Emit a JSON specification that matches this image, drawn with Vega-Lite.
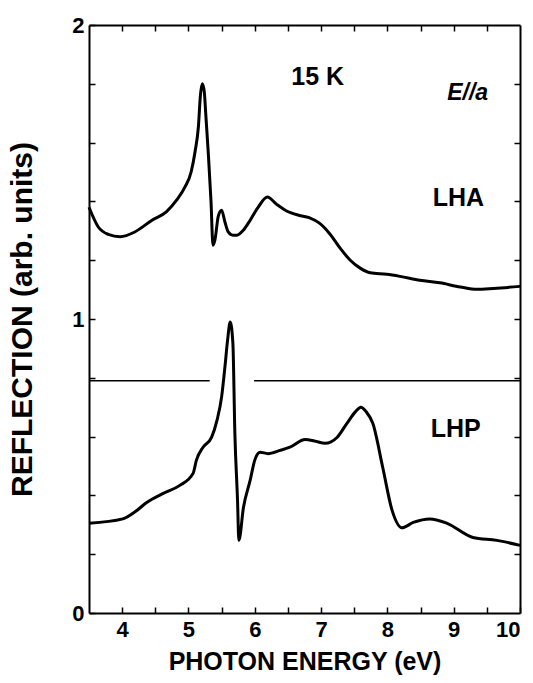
{
  "$schema": "https://vega.github.io/schema/vega-lite/v6.json",
  "width": 431,
  "height": 588,
  "autosize": "none",
  "padding": {"left": 89, "top": 25, "right": 13, "bottom": 70},
  "background": "white",
  "config": {
    "view": {"stroke": null},
    "axis": {
      "domainColor": "black", "domainWidth": 2, "tickColor": "black", "tickWidth": 1.5,
      "tickSize": -6, "grid": false, "labelFont": "Liberation Sans", "labelFontWeight": "bold",
      "labelFontSize": 22, "labelColor": "black", "titleFont": "Liberation Sans",
      "titleFontWeight": "bold", "titleFontSize": 25, "titleColor": "black"
    },
    "text": {"font": "Liberation Sans"}
  },
  "datasets": {
    "curves": [
      {"series": "LHA", "energy": 3.5, "refl": 1.38},
      {"series": "LHA", "energy": 3.64, "refl": 1.313},
      {"series": "LHA", "energy": 3.79, "refl": 1.288},
      {"series": "LHA", "energy": 3.97, "refl": 1.28},
      {"series": "LHA", "energy": 4.19, "refl": 1.296},
      {"series": "LHA", "energy": 4.45, "refl": 1.336},
      {"series": "LHA", "energy": 4.67, "refl": 1.365},
      {"series": "LHA", "energy": 4.82, "refl": 1.404},
      {"series": "LHA", "energy": 4.95, "refl": 1.45},
      {"series": "LHA", "energy": 5.04, "refl": 1.5},
      {"series": "LHA", "energy": 5.1, "refl": 1.57},
      {"series": "LHA", "energy": 5.15, "refl": 1.654},
      {"series": "LHA", "energy": 5.18, "refl": 1.76},
      {"series": "LHA", "energy": 5.21, "refl": 1.8},
      {"series": "LHA", "energy": 5.24, "refl": 1.77},
      {"series": "LHA", "energy": 5.26, "refl": 1.7},
      {"series": "LHA", "energy": 5.3, "refl": 1.56},
      {"series": "LHA", "energy": 5.34, "refl": 1.4},
      {"series": "LHA", "energy": 5.37, "refl": 1.251},
      {"series": "LHA", "energy": 5.4, "refl": 1.27},
      {"series": "LHA", "energy": 5.45, "refl": 1.35},
      {"series": "LHA", "energy": 5.5, "refl": 1.37},
      {"series": "LHA", "energy": 5.55, "refl": 1.33},
      {"series": "LHA", "energy": 5.6, "refl": 1.296},
      {"series": "LHA", "energy": 5.67, "refl": 1.285},
      {"series": "LHA", "energy": 5.73, "refl": 1.285},
      {"series": "LHA", "energy": 5.82, "refl": 1.3},
      {"series": "LHA", "energy": 5.9, "refl": 1.325},
      {"series": "LHA", "energy": 6.05, "refl": 1.38},
      {"series": "LHA", "energy": 6.19, "refl": 1.415},
      {"series": "LHA", "energy": 6.33, "refl": 1.39},
      {"series": "LHA", "energy": 6.46, "refl": 1.37},
      {"series": "LHA", "energy": 6.66, "refl": 1.353},
      {"series": "LHA", "energy": 6.82, "refl": 1.345},
      {"series": "LHA", "energy": 6.98, "refl": 1.325},
      {"series": "LHA", "energy": 7.13, "refl": 1.29},
      {"series": "LHA", "energy": 7.29, "refl": 1.24},
      {"series": "LHA", "energy": 7.44, "refl": 1.2},
      {"series": "LHA", "energy": 7.59, "refl": 1.173},
      {"series": "LHA", "energy": 7.74, "refl": 1.157},
      {"series": "LHA", "energy": 7.99, "refl": 1.152},
      {"series": "LHA", "energy": 8.19, "refl": 1.145},
      {"series": "LHA", "energy": 8.49, "refl": 1.132},
      {"series": "LHA", "energy": 8.79, "refl": 1.123},
      {"series": "LHA", "energy": 9.1, "refl": 1.109},
      {"series": "LHA", "energy": 9.35, "refl": 1.101},
      {"series": "LHA", "energy": 9.6, "refl": 1.104},
      {"series": "LHA", "energy": 10.0, "refl": 1.111},
      {"series": "LHP", "energy": 3.5, "refl": 0.305},
      {"series": "LHP", "energy": 4.01, "refl": 0.32},
      {"series": "LHP", "energy": 4.2, "refl": 0.345},
      {"series": "LHP", "energy": 4.37, "refl": 0.376},
      {"series": "LHP", "energy": 4.62, "refl": 0.407},
      {"series": "LHP", "energy": 4.87, "refl": 0.434},
      {"series": "LHP", "energy": 5.07, "refl": 0.475},
      {"series": "LHP", "energy": 5.12, "refl": 0.52},
      {"series": "LHP", "energy": 5.22, "refl": 0.564},
      {"series": "LHP", "energy": 5.35, "refl": 0.598},
      {"series": "LHP", "energy": 5.43, "refl": 0.655},
      {"series": "LHP", "energy": 5.5, "refl": 0.735},
      {"series": "LHP", "energy": 5.55, "refl": 0.837},
      {"series": "LHP", "energy": 5.59, "refl": 0.928},
      {"series": "LHP", "energy": 5.63, "refl": 0.99},
      {"series": "LHP", "energy": 5.67, "refl": 0.917},
      {"series": "LHP", "energy": 5.7, "refl": 0.61},
      {"series": "LHP", "energy": 5.74, "refl": 0.383},
      {"series": "LHP", "energy": 5.76, "refl": 0.247},
      {"series": "LHP", "energy": 5.83, "refl": 0.36},
      {"series": "LHP", "energy": 5.93, "refl": 0.451},
      {"series": "LHP", "energy": 6.0, "refl": 0.52},
      {"series": "LHP", "energy": 6.08, "refl": 0.547},
      {"series": "LHP", "energy": 6.2, "refl": 0.542},
      {"series": "LHP", "energy": 6.38, "refl": 0.553},
      {"series": "LHP", "energy": 6.53, "refl": 0.564},
      {"series": "LHP", "energy": 6.76, "refl": 0.59},
      {"series": "LHP", "energy": 6.9, "refl": 0.585},
      {"series": "LHP", "energy": 7.06, "refl": 0.577},
      {"series": "LHP", "energy": 7.24, "refl": 0.597},
      {"series": "LHP", "energy": 7.39, "refl": 0.645},
      {"series": "LHP", "energy": 7.52, "refl": 0.685},
      {"series": "LHP", "energy": 7.6, "refl": 0.7},
      {"series": "LHP", "energy": 7.68, "refl": 0.685},
      {"series": "LHP", "energy": 7.78, "refl": 0.645},
      {"series": "LHP", "energy": 7.93, "refl": 0.495},
      {"series": "LHP", "energy": 8.07, "refl": 0.35},
      {"series": "LHP", "energy": 8.22, "refl": 0.29},
      {"series": "LHP", "energy": 8.39, "refl": 0.308},
      {"series": "LHP", "energy": 8.64, "refl": 0.32},
      {"series": "LHP", "energy": 8.9, "refl": 0.305},
      {"series": "LHP", "energy": 9.29, "refl": 0.257},
      {"series": "LHP", "energy": 9.65, "refl": 0.247},
      {"series": "LHP", "energy": 10.0, "refl": 0.23}
    ],
    "baseline": [
      {"start": 3.5, "end": 5.32, "level": 0.79},
      {"start": 5.99, "end": 10.0, "level": 0.79}
    ],
    "labels": [
      {"energy": 6.95, "refl": 1.823, "text": "15 K"},
      {"energy": 9.07, "refl": 1.41, "text": "LHA"},
      {"energy": 9.03, "refl": 0.625, "text": "LHP"}
    ],
    "italic": [
      {"energy": 9.21, "refl": 1.77, "text": "E//a"}
    ]
  },
  "resolve": {"scale": {"x": "independent", "y": "independent"}, "axis": {"x": "independent", "y": "independent"}},
  "layer": [
    {
      "data": {"name": "curves"},
      "mark": {"type": "line", "color": "black", "strokeWidth": 3, "interpolate": "monotone", "strokeJoin": "round"},
      "encoding": {
        "x": {"field": "energy", "type": "quantitative", "scale": {"domain": [3.5, 10], "nice": false, "zero": false},
          "axis": {"title": "PHOTON ENERGY (eV)", "values": [4, 4.5, 5, 5.5, 6, 6.5, 7, 7.5, 8, 8.5, 9, 9.5, 10],
            "labelExpr": "datum.value % 1 == 0 ? format(datum.value, 'd') : ''", "labelPadding": 12, "titlePadding": 9}},
        "y": {"field": "refl", "type": "quantitative", "scale": {"domain": [0, 2], "nice": false, "zero": false},
          "axis": {"title": "REFLECTION (arb. units)", "titleFontSize": 30, "values": [0, 0.2, 0.4, 0.6, 0.8, 1, 1.2, 1.4, 1.6, 1.8, 2],
            "labelExpr": "datum.value == 0 || datum.value == 1 || datum.value == 2 ? format(datum.value, 'd') : ''",
            "labelFlush": false, "labelPadding": 11, "titlePadding": 34}},
        "detail": {"field": "series"}
      }
    },
    {
      "data": {"name": "baseline"},
      "mark": {"type": "rule", "color": "black", "strokeWidth": 1.5},
      "encoding": {
        "x": {"field": "start", "type": "quantitative", "scale": {"domain": [3.5, 10], "nice": false, "zero": false},
          "axis": {"orient": "top", "title": null, "labels": false, "values": [4, 4.5, 5, 5.5, 6, 6.5, 7, 7.5, 8, 8.5, 9, 9.5]}},
        "x2": {"field": "end"},
        "y": {"field": "level", "type": "quantitative", "scale": {"domain": [0, 2], "nice": false, "zero": false},
          "axis": {"orient": "right", "title": null, "labels": false, "values": [0.2, 0.4, 0.6, 0.8, 1, 1.2, 1.4, 1.6, 1.8]}}
      }
    },
    {
      "data": {"name": "labels"},
      "mark": {"type": "text", "fontSize": 25, "fontWeight": "bold", "color": "black", "align": "center", "baseline": "middle"},
      "encoding": {
        "x": {"field": "energy", "type": "quantitative", "scale": {"domain": [3.5, 10], "nice": false, "zero": false}, "axis": null},
        "y": {"field": "refl", "type": "quantitative", "scale": {"domain": [0, 2], "nice": false, "zero": false}, "axis": null},
        "text": {"field": "text"}
      }
    },
    {
      "data": {"name": "italic"},
      "mark": {"type": "text", "fontSize": 23, "fontWeight": "bold", "fontStyle": "italic", "color": "black", "align": "center", "baseline": "middle"},
      "encoding": {
        "x": {"field": "energy", "type": "quantitative", "scale": {"domain": [3.5, 10], "nice": false, "zero": false}, "axis": null},
        "y": {"field": "refl", "type": "quantitative", "scale": {"domain": [0, 2], "nice": false, "zero": false}, "axis": null},
        "text": {"field": "text"}
      }
    }
  ]
}
